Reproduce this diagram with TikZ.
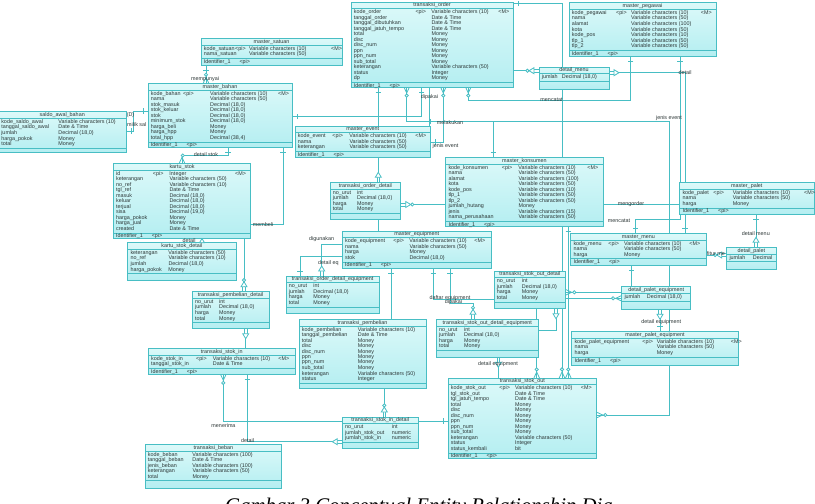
\documentclass[tikz,border=0pt]{standalone}
\usepackage{fontspec}
\setmainfont{Liberation Sans}
\newfontfamily\capfont{Liberation Serif}
\usepackage{array}
\usetikzlibrary{decorations.markings}
\pgfdeclarelayer{back}
\pgfdeclarelayer{bg}
\pgfsetlayers{back,bg,main}
\definecolor{lc}{RGB}{72,190,196}
\definecolor{fa}{RGB}{220,249,249}
\definecolor{fb}{RGB}{180,238,241}
\definecolor{tc}{RGB}{45,55,55}
\setlength\tabcolsep{0pt}
\newcolumntype{W}[1]{>{\hbox to #1\bgroup}l<{\hss\egroup}}
\newcommand\ePI{<pi>}
\newcommand\eM{<M>}
\newcommand\eID{Identifier\_1\hspace{9pt}<pi>}
\tikzset{
  ebox/.style={draw=lc,line width=0.8pt,top color=fa,bottom color=fb,inner sep=0pt,outer sep=0pt},
  eline/.style={draw=lc,line width=0.8pt},
  etxt/.style={inner sep=0pt,text=tc,font=\fontsize{5.4}{5.4}\selectfont},
  lbl/.style={inner sep=0pt,text=tc,font=\fontsize{5.4}{5.4}\selectfont},
  rel/.style={draw=lc,line width=0.8pt},
  mk/.style={postaction={decorate,decoration={markings,mark=#1}}},
  eone/.style={mk={at position -5pt with {\draw[lc,line width=.8pt] (0,-2.6pt)--(0,2.6pt);}}},
  sone/.style={mk={at position 5pt with {\draw[lc,line width=.8pt] (0,-2.6pt)--(0,2.6pt);}}},
  ecrow/.style={mk={at position -6pt with {\draw[lc,line width=.8pt] (6pt,-2.8pt)--(0,0)--(6pt,2.8pt);}}},
  scrow/.style={mk={at position 6pt with {\draw[lc,line width=.8pt] (-6pt,-2.8pt)--(0,0)--(-6pt,2.8pt);}}},
  ecirc/.style={mk={at position -8.6pt with {\draw[lc,line width=.8pt,fill=white] (0,0) circle (1.6pt);}}},
  scirc/.style={mk={at position 8.6pt with {\draw[lc,line width=.8pt,fill=white] (0,0) circle (1.6pt);}}},
  ezmany/.style={ecrow,ecirc},
  szmany/.style={scrow,scirc},
  edep/.style={mk={at position -5pt with {\fill[white] (0,-.7pt) rectangle (5pt,.7pt);
     \draw[lc,line width=.6pt] (0,-1.3pt)--(5pt,-1.3pt) (0,1.3pt)--(5pt,1.3pt);
     \draw[lc,line width=.8pt,fill=white] (0,-3pt)--(-5pt,0)--(0,3pt)--cycle;}}},
  sdep/.style={mk={at position 5pt with {\fill[white] (0,-.7pt) rectangle (-5pt,.7pt);
     \draw[lc,line width=.6pt] (0,-1.3pt)--(-5pt,-1.3pt) (0,1.3pt)--(-5pt,1.3pt);
     \draw[lc,line width=.8pt,fill=white] (0,-3pt)--(5pt,0)--(0,3pt)--cycle;}}},
  ezdep/.style={edep,mk={at position -11.6pt with {\draw[lc,line width=.8pt,fill=white] (0,0) circle (1.6pt);}}},
  szdep/.style={sdep,mk={at position 11.6pt with {\draw[lc,line width=.8pt,fill=white] (0,0) circle (1.6pt);}}},
}
\newcommand\ent[9]{%
  \node[ebox,minimum width={#4pt-(#2pt)},minimum height={#5pt-(#3pt)},anchor=north west] (#1) at (#2,#3) {};
  \node[etxt] (#1t) at ([yshift=-3.5pt]#1.north) {#6};
  \draw[eline] ([yshift=-6.8pt]#1.north west) -- ([yshift=-6.8pt]#1.north east);
  \node[etxt,anchor=north west] (#1b) at ([xshift=2.6pt,yshift=-7.6pt]#1.north west) {\begin{tabular}{#7}#8\end{tabular}};
  \coordinate (#1s) at ([yshift=-0.9pt]#1b.south);
  \draw[eline] (#1s -| #1.west) -- (#1s -| #1.east);
  \if\relax\detokenize{#9}\relax\else
  \node[etxt,anchor=west] (#1i) at ([xshift=2.6pt,yshift=-3.4pt]#1s -| #1.west) {#9};\fi
}
\begin{document}
\begin{tikzpicture}[x=1pt,y=-1pt]
\useasboundingbox (0,0) rectangle (815,504);
\begin{pgfonlayer}{back}
\fill[white] (0,0) rectangle (815,504);
\end{pgfonlayer}

% ---------------- entities ----------------
\ent{ms}{201}{38.3}{342}{65}{master\_satuan}{@{}W{31.4pt}W{14pt}W{82pt}l@{}}{%
kode\_satuan & \ePI & Variable characters (10) & \eM\\
nama\_satuan & & Variable characters (50) &}{\eID}

\ent{mb}{148}{83.3}{292}{147}{master\_bahan}{@{}W{32.4pt}W{27pt}W{68pt}l@{}}{%
kode\_bahan & \ePI & Variable characters (10) & \eM\\
nama & & Variable characters (50) &\\
stok\_masuk & & Decimal (18,0) &\\
stok\_keluar & & Decimal (18,0) &\\
stok & & Decimal (18,0) &\\
minimum\_stok & & Decimal (18,0) &\\
harga\_beli & & Money &\\
harga\_hpp & & Money &\\
total\_hpp & & Decimal (38,4) &}{\eID}

\ent{sab}{-1.5}{111.7}{126}{152.7}{saldo\_awal\_bahan}{@{}W{57.2pt}l@{}}{%
kode\_saldo\_awal & Variable characters (10)\\
tanggal\_saldo\_awal & Date \& Time\\
jumlah & Decimal (18,0)\\
harga\_pokok & Money\\
total & Money}{}

\ent{kst}{113.3}{163.3}{250.7}{238.3}{kartu\_stok}{@{}W{36.8pt}W{16.6pt}W{65.7pt}l@{}}{%
id & \ePI & Integer & \eM\\
keterangan & & Variable characters (50) &\\
no\_ref & & Variable characters (10) &\\
tgl\_ref & & Date \& Time &\\
masuk & & Decimal (18,0) &\\
keluar & & Decimal (18,0) &\\
terjual & & Decimal (18,0) &\\
sisa & & Decimal (19,0) &\\
harga\_pokok & & Money &\\
harga\_jual & & Money &\\
created & & Date \& Time &}{\eID}

\ent{ksd}{127.7}{242.7}{236}{280}{kartu\_stok\_detail}{@{}W{38pt}l@{}}{%
keterangan & Variable characters (50)\\
no\_ref & Variable characters (10)\\
jumlah & Decimal (18,0)\\
harga\_pokok & Money}{}

\ent{tpd}{192.3}{291.7}{269}{328.7}{transaksi\_pembelian\_detail}{@{}W{24.1pt}l@{}}{%
no\_urut & int\\
jumlah & Decimal (18,0)\\
harga & Money\\
total & Money}{}

\ent{tsi}{148.3}{348.3}{295}{374.3}{transaksi\_stok\_in}{@{}W{45.1pt}W{16.7pt}W{65.6pt}l@{}}{%
kode\_stok\_in & \ePI & Variable characters (10) & \eM\\
tanggal\_stok\_in & & Date \& Time &}{\eID}

\ent{tb}{145}{444.3}{281.7}{488.3}{transaksi\_beban}{@{}W{44.7pt}l@{}}{%
kode\_beban & Variable characters (100)\\
tanggal\_beban & Date \& Time\\
jenis\_beban & Variable characters (100)\\
keterangan & Variable characters (50)\\
total & Money}{}

\ent{tor}{351}{2}{513}{87}{transaksi\_order}{@{}W{61.7pt}W{16pt}W{67pt}l@{}}{%
kode\_order & \ePI & Variable characters (10) & \eM\\
tanggal\_order & & Date \& Time &\\
tanggal\_dibutuhkan & & Date \& Time &\\
tanggal\_jatuh\_tempo & & Date \& Time &\\
total & & Money &\\
disc & & Money &\\
disc\_num & & Money &\\
ppn & & Money &\\
ppn\_num & & Money &\\
sub\_total & & Money &\\
keterangan & & Variable characters (50) &\\
status & & Integer &\\
dp & & Money &}{\eID}

\ent{me}{295}{126}{430.7}{157.7}{master\_event}{@{}W{34.7pt}W{17pt}W{66pt}l@{}}{%
kode\_event & \ePI & Variable characters (10) & \eM\\
nama & & Variable characters (50) &\\
keterangan & & Variable characters (50) &}{\eID}

\ent{mp}{569}{2.7}{716}{56}{master\_pegawai}{@{}W{44.4pt}W{15pt}W{69.7pt}l@{}}{%
kode\_pegawai & \ePI & Variable characters (10) & \eM\\
nama & & Variable characters (50) &\\
alamat & & Variable characters (100) &\\
kota & & Variable characters (50) &\\
kode\_pos & & Variable characters (10) &\\
tlp\_1 & & Variable characters (50) &\\
tlp\_2 & & Variable characters (50) &}{\eID}

\ent{dm}{539}{67}{609}{89}{detail\_menu}{@{}W{20.1pt}l@{}}{%
jumlah & Decimal (18,0)}{}

\ent{tod}{330}{182.3}{400.7}{219.3}{transaksi\_order\_detail}{@{}W{24.4pt}l@{}}{%
no\_urut & int\\
jumlah & Decimal (18,0)\\
harga & Money\\
total & Money}{}

\ent{mk}{445.7}{157.3}{603}{226}{master\_konsumen}{@{}W{53.4pt}W{16.6pt}W{69pt}l@{}}{%
kode\_konsumen & \ePI & Variable characters (10) & \eM\\
nama & & Variable characters (50) &\\
alamat & & Variable characters (100) &\\
kota & & Variable characters (50) &\\
kode\_pos & & Variable characters (10) &\\
tlp\_1 & & Variable characters (50) &\\
tlp\_2 & & Variable characters (50) &\\
jumlah\_hutang & & Money &\\
jenis & & Variable characters (15) &\\
nama\_perusahaan & & Variable characters (50) &}{\eID}

\ent{meq}{342.3}{231}{491.3}{268}{master\_equipment}{@{}W{48.4pt}W{16pt}W{65pt}l@{}}{%
kode\_equipment & \ePI & Variable characters (10) & \eM\\
nama & & Variable characters (50) &\\
harga & & Money &\\
stok & & Decimal (18,0) &}{\eID}

\ent{tode}{286}{276}{379.3}{313.3}{transaksi\_order\_detail\_equipment}{@{}W{24.7pt}l@{}}{%
no\_urut & int\\
jumlah & Decimal (18,0)\\
harga & Money\\
total & Money}{}

\ent{tp}{299}{319.3}{426}{388}{transaksi\_pembelian}{@{}W{56.1pt}l@{}}{%
kode\_pembelian & Variable characters (10)\\
tanggal\_pembelian & Date \& Time\\
total & Money\\
disc & Money\\
disc\_num & Money\\
ppn & Money\\
ppn\_num & Money\\
sub\_total & Money\\
keterangan & Variable characters (50)\\
status & Integer}{}

\ent{tsid}{342.3}{417}{418.3}{448.7}{transaksi\_stok\_in\_detail}{@{}W{46.8pt}l@{}}{%
no\_urut & int\\
jumlah\_stok\_out & numeric\\
jumlah\_stok\_in & numeric}{}

\ent{tsod}{494}{271}{565.7}{308.7}{transaksi\_stok\_out\_detail}{@{}W{25.1pt}l@{}}{%
no\_urut & int\\
jumlah & Decimal (18,0)\\
harga & Money\\
total & Money}{}

\ent{tsode}{436.3}{319.3}{538.3}{357.3}{transaksi\_stok\_out\_detail\_equipment}{@{}W{25.1pt}l@{}}{%
no\_urut & int\\
jumlah & Decimal (18,0)\\
harga & Money\\
total & Money}{}

\ent{tso}{448}{378}{596.7}{458.3}{transaksi\_stok\_out}{@{}W{48.7pt}W{15.7pt}W{65.7pt}l@{}}{%
kode\_stok\_out & \ePI & Variable characters (10) & \eM\\
tgl\_stok\_out & & Date \& Time &\\
tgl\_jatuh\_tempo & & Date \& Time &\\
total & & Money &\\
disc & & Money &\\
disc\_num & & Money &\\
ppn & & Money &\\
ppn\_num & & Money &\\
sub\_total & & Money &\\
keterangan & & Variable characters (50) &\\
status & & Integer &\\
status\_kembali & & bit &}{\eID}

\ent{mm}{570.7}{233.3}{706}{265}{master\_menu}{@{}W{35pt}W{15.7pt}W{65.3pt}l@{}}{%
kode\_menu & \ePI & Variable characters (10) & \eM\\
nama & & Variable characters (50) &\\
harga & & Money &}{\eID}

\ent{mpl}{679.7}{182.7}{814}{214}{master\_palet}{@{}W{31pt}W{19.4pt}W{71.3pt}l@{}}{%
kode\_palet & \ePI & Variable characters (10) & \eM\\
nama & & Variable characters (50) &\\
harga & & Money &}{\eID}

\ent{dp}{726.7}{247.3}{776}{269.3}{detail\_palet}{@{}W{23.4pt}l@{}}{%
jumlah & Decimal}{}

\ent{dpe}{621.7}{286.7}{690.7}{309.3}{detail\_palet\_equipment}{@{}W{22.4pt}l@{}}{%
jumlah & Decimal (18,0)}{}

\ent{mpe}{571.7}{331.7}{738.3}{365}{master\_palet\_equipment}{@{}W{68pt}W{14.4pt}W{74pt}l@{}}{%
kode\_palet\_equipment & \ePI & Variable characters (10) & \eM\\
nama & & Variable characters (50) &\\
harga & & Money &}{\eID}

% ---------------- connectors (behind the boxes) ----------------
\begin{pgfonlayer}{bg}
\draw[rel,sone,ezmany] (ms.south -| 206,0) -- (mb.north -| 206,0);
\draw[rel,sone,eone] (sab.east |- 0,131) -- (133,131) -- (133,111) -- (mb.west |- 0,111);
\draw[rel,szmany,eone] (kst.north -| 182,0) -- (182,155.5) -- (228,155.5) -- (mb.south -| 228,0);
\draw[rel] (kst.south -| 202,0) -- (ksd.north -| 202,0);
\draw[rel,sone,ezdep] (mb.south -| 283,0) -- (283,224) -- (244,224) -- (tpd.north -| 244,0);
\draw[rel,sdep] (tpd.south -| 245.7,0) -- (tsi.north -| 245.7,0);
\draw[rel,szmany,eone] (tsi.south -| 223.3,0) -- (223.3,421) -- (tso.west |- 0,421);
\draw[rel,sone,edep] (tsi.south -| 247.3,0) -- (247.3,441.7) -- (tsid.west |- 0,441.7);
\draw[rel,ezdep] (tp.south -| 384.3,0) -- (tsid.north -| 384.3,0);
\draw[rel,sone] (meq.south -| 391,0) -- (tp.north -| 391,0);
\draw[rel,sone] (meq.south -| 433.3,0) -- (433.3,299.3) -- (tsod.west |- 0,299.3);
\draw[rel,sone,ezdep] (meq.south -| 450,0) -- (450,303) -- (473,303) -- (tsode.north -| 473,0);
\draw[rel,sdep] (tsod.south -| 556,0) -- (556,330) -- (tsode.east |- 0,330);
\draw[rel,sdep] (tsode.south -| 498.3,0) -- (tso.north -| 498.3,0);
\draw[rel,ezmany] (tsod.south -| 536.7,0) -- (tso.north -| 536.7,0);
\draw[rel,sone,ezmany] (tor.east |- 0,3.5) -- (562,3.5) -- (tso.north -| 562,0);
\draw[rel,sone,ezmany] (mk.south -| 568.3,0) -- (tso.north -| 568.3,0);
\draw[rel,szmany,eone] (tor.south -| 468.3,0) -- (468.3,100) -- (630.7,100) -- (mp.south -| 630.7,0);
\draw[rel,szmany,eone] (tor.south -| 406.7,0) -- (406.7,121.7) -- (493.3,121.7) -- (mk.north -| 493.3,0);
\draw[rel,szmany,eone] (tor.south -| 443.3,0) -- (443.3,142) -- (me.east |- 0,142);
\draw[rel] (tor.south -| 429.3,0) -- (me.north -| 429.3,0);
\draw[rel,sone,ezmany] (me.north -| 429.3,0) -- (429.3,121.7) -- (669,121.7) -- (669,415) -- (tso.east |- 0,415);
\draw[rel,sone,eone] (mb.east |- 0,116.5) -- (421.7,116.5) -- (tor.south -| 421.7,0);
\draw[rel,sone,edep] (tor.south -| 378.3,0) -- (tod.north -| 378.3,0);
\draw[rel] (tod.south -| 378.3,0) -- (meq.north -| 378.3,0);
\draw[rel,edep] (meq.west |- 0,244.3) -- (321.7,244.3) -- (tode.north -| 321.7,0);
\draw[rel,eone] (meq.west |- 0,256.7) -- (300,256.7) -- (tode.north -| 300,0);
\draw[rel,sdep,eone] (dm.east |- 0,72.7) -- (685,72.7) -- (mm.north -| 685,0);
\draw[rel,ezdep] (tor.east |- 0,70.7) -- (dm.west |- 0,70.7);
\draw[rel,sone,eone] (mp.south -| 680,0) -- (680,219.3) -- (635.7,219.3) -- (mm.north -| 635.7,0);
\draw[rel,szdep] (tod.east |- 0,204.5) -- (mpl.west |- 0,204.5);
\draw[rel,ezdep] (mm.east |- 0,255) -- (dp.west |- 0,255);
\draw[rel,sone,edep] (mpl.south -| 756,0) -- (dp.north -| 756,0);
\draw[rel,sone] (mm.south -| 631.7,0) -- (dpe.north -| 631.7,0);
\draw[rel,sdep,eone] (dpe.south -| 660,0) -- (mpe.north -| 660,0);
\draw[rel,szmany] (tsod.east |- 0,292.3) -- (dpe.west |- 0,292.3);
\draw[rel,ezmany] (tsod.east |- 0,298.3) -- (dpe.west |- 0,298.3);

% ---------------- labels ----------------
\node[lbl] (l1) at (205,79) {mempunyai};
\node[lbl] (l2) at (130.5,115) {(D)};
\node[lbl,anchor=west] (l3) at (127,125) {milik sal};
\node[lbl] (l4) at (206,155) {detail stok};
\node[lbl] (l6) at (263,224.5) {membeli};
\node[lbl] (l7) at (223.5,425.5) {menerima};
\node[lbl] (l8) at (247.5,441) {detail};
\node[lbl] (l9) at (450,298.3) {daftar equipment};
\node[lbl] (l10) at (453.5,302.3) {dipakai};
\node[lbl] (l11) at (498,364) {detail equipment};
\node[lbl] (l12) at (551.6,100) {mencatat};
\node[lbl] (l13) at (450,122.3) {melakukan};
\node[lbl] (l14) at (445.5,145.7) {jenis event};
\node[lbl] (l15) at (669,117.7) {jenis event};
\node[lbl] (l16) at (429.5,97.5) {dipakai};
\node[lbl] (l17) at (321.7,239.3) {digunakan};
\node[lbl,anchor=west] (l18) at (318,263.3) {detail eq};
\node[lbl] (l19) at (685,72.7) {detail};
\node[lbl] (l20) at (619,221) {mencatat};
\node[lbl] (l21) at (631,204.3) {mengorder};
\node[lbl,anchor=west] (l22) at (706.7,253.3) {fitur me};
\node[lbl] (l23) at (755.8,233.3) {detail menu};
\node[lbl] (l24) at (661.3,322.3) {detail equipment};
\end{pgfonlayer}

% small dependency mark between kartu_stok and kartu_stok_detail
\draw[rel,fill=white] (199.5,242.7) -- (202,238.6) -- (204.5,242.7) -- cycle;
\node[lbl] (l5) at (189,241) {detail};

% caption
\node[font=\capfont\itshape\fontsize{20.8}{21}\selectfont,text=black,anchor=base west,inner sep=0pt] (cap) at (225,512.7) {Gambar 3 Conceptual Entity Relationship Dia};
\end{tikzpicture}
\end{document}
